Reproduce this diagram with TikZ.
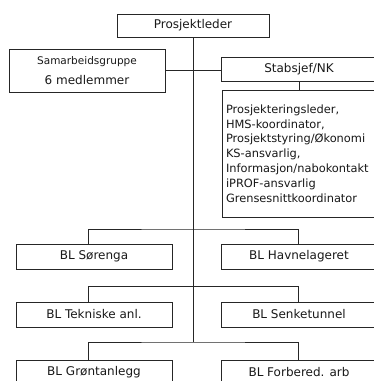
\documentclass[tikz,border=0pt]{standalone}
\usepackage{fontspec}
\setmainfont{DejaVu Sans}
\begin{document}
\begin{tikzpicture}[x=1pt,y=-1pt,
  box/.style={draw=black!85, line width=0.8pt, fill=white, rectangle, inner sep=0pt, outer sep=0pt,
    font=\fontsize{12}{14}\selectfont, text=black!90},
  rowbox/.style={box, minimum width=156pt, minimum height=25pt},
  conn/.style={draw=black!85, line width=0.8pt}]
\useasboundingbox (0,0) rectangle (373,381);
% junctions on the main line
\coordinate (j1) at (193,229);
\coordinate (j2) at (193,286.5);
\coordinate (j3) at (193,342);
% nodes
\node[box, minimum width=152pt, minimum height=23pt] (pl) at (193,25.5) {Prosjektleder};
\node[box, minimum width=156pt, minimum height=43pt, align=center,
      font=\fontsize{12}{20}\selectfont] (sam) at (87,70.5)
      {{\fontsize{10.5}{20}\selectfont Samarbeidsgruppe}\\6 medlemmer};
\node[box, minimum width=156pt, minimum height=24pt] (stab) at (299,69) {Stabsjef/NK};
\node[box, minimum width=155pt, minimum height=127pt, text width=147pt, align=left,
      font=\fontsize{11.4}{14.8}\selectfont] (list) at (299.5,153.5)
      {Prosjekteringsleder,\\HMS-koordinator,\\Prosjektstyring/Økonomi\\KS-ansvarlig,\\Informasjon/nabokontakt\\iPROF-ansvarlig\\Grensesnittkoordinator};
\node[rowbox] (sor) at (94,256.5) {BL Sørenga};
\node[rowbox] (hav) at (299,256.5) {BL Havnelageret};
\node[rowbox] (tek) at (94,314.5) {BL Tekniske anl.};
\node[rowbox] (sen) at (299,314.5) {BL Senketunnel};
\node[rowbox] (gro) at (94,372.5) {BL Grøntanlegg};
\node[rowbox] (for) at (299,372.5) {BL Forbered. arb};
% connectors
\draw[conn] (pl.south) -- (j3);
\draw[conn] (sam.east) -- (sam.east -| stab.west);
\draw[conn] (stab.south) -- (stab.south |- list.north);
\draw[conn] ([xshift=-6pt]sor.north) |- (j1) -| ([xshift=-1pt]hav.north);
\draw[conn] ([xshift=-6pt]tek.north) |- (j2) -| ([xshift=-1pt]sen.north);
\draw[conn] ([xshift=-6pt]gro.north) |- (j3) -| ([xshift=-1pt]for.north);
\end{tikzpicture}
\end{document}
